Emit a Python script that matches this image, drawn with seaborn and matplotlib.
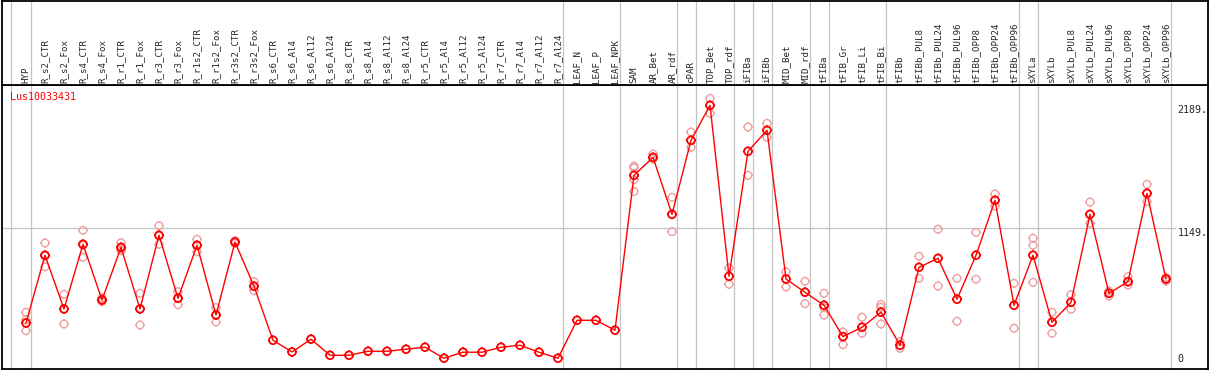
import numpy as np
import pandas as pd
import matplotlib
matplotlib.use("Agg")
import matplotlib.pyplot as plt
import seaborn as sns
from matplotlib.path import Path

gene = "Lus10033431"

samples = [
    "HYP", "R_s2_CTR", "R_s2_Fox", "R_s4_CTR", "R_s4_Fox", "R_r1_CTR", "R_r1_Fox",
    "R_r3_CTR", "R_r3_Fox", "R_r1s2_CTR", "R_r1s2_Fox", "R_r3s2_CTR", "R_r3s2_Fox",
    "R_s6_CTR", "R_s6_Al4", "R_s6_Al12", "R_s6_Al24", "R_s8_CTR", "R_s8_Al4",
    "R_s8_Al12", "R_s8_Al24", "R_r5_CTR", "R_r5_Al4", "R_r5_Al12", "R_r5_Al24",
    "R_r7_CTR", "R_r7_Al4", "R_r7_Al12", "R_r7_Al24", "LEAF_N", "LEAF_P", "LEAF_NPK",
    "SAM", "AR_Bet", "AR_rdf", "cPAR", "TOP_Bet", "TOP_rdf", "iFIBa", "iFIBb",
    "MID_Bet", "MID_rdf", "tFIBa", "tFIB_Gr", "tFIB_Li", "tFIB_Bi", "tFIBb",
    "tFIBb_PUL8", "tFIBb_PUL24", "tFIBb_PUL96", "tFIBb_OPP8", "tFIBb_OPP24",
    "tFIBb_OPP96", "sXYLa", "sXYLb", "sXYLb_PUL8", "sXYLb_PUL24", "sXYLb_PUL96",
    "sXYLb_OPP8", "sXYLb_OPP24", "sXYLb_OPP96",
]

means = [
    348, 921, 467, 1014, 543, 988, 467, 1090, 557, 1005, 416, 1033, 659,
    202, 103, 211, 75, 75, 109, 109, 126, 143, 50, 101, 101, 143, 160, 101, 50,
    371, 371, 287,
    1597, 1749, 1267, 1893, 2189, 743, 1800, 1978, 720, 608,
    498, 233, 312, 439, 160,
    819, 895, 549, 921, 1386, 498,
    921, 354, 523, 1267, 599, 698, 1445, 720,
]

replicates = [
    [439, 374, 283], [1025, 914, 824], [591, 467, 340], [1132, 1005, 904],
    [528, 560, 540], [1027, 975, 960], [599, 470, 331], [1171, 1085, 1014],
    [613, 555, 503], [1056, 1008, 951], [478, 413, 357], [1045, 1035, 1020],
    [698, 659, 621],
    [], [], [], [], [], [], [], [], [], [], [], [], [], [], [], [],
    [], [], [],
    [1675, 1660, 1560, 1460], [1777, 1735], [1411, 1120], [1963, 1834],
    [2248, 2121], [813, 676], [2006, 1597], [2037, 1918], [780, 653], [701, 512],
    [599, 478, 416], [272, 165], [397, 261], [506, 481, 340], [190, 134],
    [912, 726], [1141, 661], [726, 363], [1115, 718], [1439, 1338], [684, 304],
    [1065, 1005, 692], [439, 261], [588, 464], [1371, 1191], [619, 577],
    [740, 670], [1521, 1374], [735, 703],
]

# group boundaries (line drawn just right of these sample indices)
group_ends = [-1.05, 0, 28, 31, 34, 35, 37, 38, 39, 41, 42, 45, 52, 53, 60]
ytick_values = [0, 1149, 2189]
ytick_labels = ["0", "1149.", "2189."]

sns.set_style("white")
plt.rcParams["font.family"] = ["DejaVu Sans Mono"]

idx = np.arange(len(samples))
df = pd.DataFrame({"pos": idx, "sample": samples, "mean": means})
reps = pd.DataFrame([(i, v) for i, vals in enumerate(replicates) for v in vals],
                    columns=["pos", "value"])

# circle with tiny ticks, like the original viewer's markers
circ = Path.unit_circle()
ticks = []
for a in np.deg2rad([0, 90, 180, 270]):
    ticks.append(Path([(np.cos(a), np.sin(a)), (1.22 * np.cos(a), 1.22 * np.sin(a))],
                      [Path.MOVETO, Path.LINETO]))
marker = Path.make_compound_path(circ, *ticks)

W, H = 1209, 370
fig = plt.figure(figsize=(W / 100, H / 100), dpi=100)
ax = fig.add_axes([1.5 / W, 1 / H, 1206 / W, 284 / H])
head = fig.add_axes([1.5 / W, 285 / H, 1206 / W, 84.5 / H], sharex=ax)

xmin, xmax = (1.5 - 26) / 19, (1207.5 - 26) / 19
ax.set_xlim(xmin, xmax)
ax.set_ylim(-41, 2361)
head.set_ylim(85, 0)

grey = "#c4c4c4"
for g in group_ends:
    ax.axvline(g + 0.25, color=grey, lw=0.9, zorder=0)
    head.axvline(g + 0.25, color=grey, lw=0.9, zorder=0)
ax.hlines(ytick_values[1], xmin, 60.55, color=grey, lw=0.9, zorder=0)

sns.scatterplot(data=reps, x="pos", y="value", marker=marker, s=44,
                color="#f08c8c", facecolor="none", edgecolor="#f0a0a0",
                linewidth=1.0, ax=ax, zorder=2)
sns.lineplot(data=df, x="pos", y="mean", color="red", lw=1.0, ax=ax, zorder=3)
sns.scatterplot(data=df, x="pos", y="mean", marker=marker, s=46,
                color="red", facecolor="none", edgecolor="red",
                linewidth=1.3, ax=ax, zorder=4)

for i, name in enumerate(samples):
    head.text(i, 82.5, name, rotation=90, ha="center", va="bottom", fontsize=6.6)

ax.text(8.5 / 1206, 1 - 12.3 / 284, gene, color="red", fontsize=7.2,
        ha="left", va="center", transform=ax.transAxes)

xlab = 60.6
for v, lab in zip(ytick_values, ytick_labels):
    ax.text(xlab, v, lab, fontsize=7.2, ha="left",
            va="bottom" if v == 0 else "top")

for a in (ax, head):
    a.set_xticks([])
    a.set_yticks([])
    a.set_xlabel("")
    a.set_ylabel("")
    for s in a.spines.values():
        s.set_color("black")
        s.set_linewidth(1.3)

fig.savefig("out.png", dpi=100)
